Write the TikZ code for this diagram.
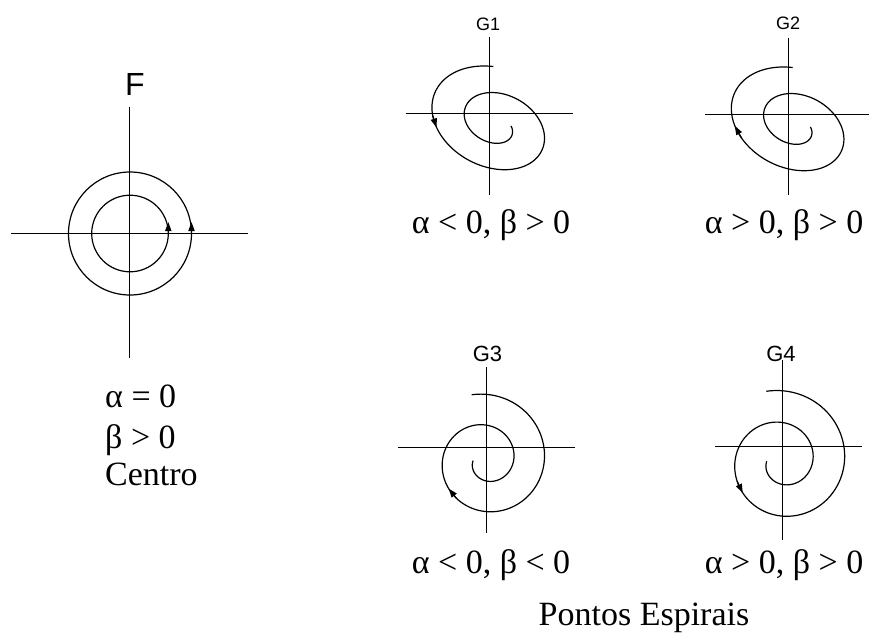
\documentclass[tikz,border=0pt]{standalone}
\usepackage{fontspec}
\setmainfont{Liberation Serif}
\newfontfamily\grafsf{Liberation Sans}
\usetikzlibrary{arrows.meta}
\tikzset{
  fase/axis/.style={line width=1.1pt},
  fase/orbit/.style={line width=1.2pt, samples=240},
  fase/tip/.style={-{Triangle[length=9pt,width=6.2pt]}, line width=1.2pt},
  fase/cond/.style={font=\fontsize{34}{40}\selectfont, inner sep=0pt},
  fase/name/.style={font=\grafsf\fontsize{22}{26}\selectfont, anchor=base, inner sep=0pt},
  fase/small/.style={font=\grafsf\fontsize{18}{22}\selectfont, anchor=base, inner sep=0pt},
  declare function={
    ovx(\t)=7+(1-0.00125*\t)*(-3*cos(\t)-72*sin(\t));
    ovy(\t)=10.8+(1-0.00125*\t)*(-58*cos(\t)-12*sin(\t));
    cirx(\t)=-1+(66.3-0.0853*\t)*sin(\t);
    ciry(\t)=13.3-(66.3-0.0853*\t)*cos(\t);
    cjrx(\t)=-0.5+(70.6-0.0881*\t)*sin(\t);
    cjry(\t)=14.6-(70.6-0.0881*\t)*cos(\t);
  },
}

\begin{document}
\begin{tikzpicture}[x=1pt, y=-1pt]
  \useasboundingbox (0,0) rectangle (870,633);

  % Centro
  \node[fase/name, font=\grafsf\fontsize{32}{36}\selectfont] (lblF) at (135,95) {F};
  \draw[fase/axis] (11,233.5) -- (248,233.5);
  \draw[fase/axis] (129.5,106.7) -- (129.5,358);
  \draw[fase/orbit] (130,233.5) circle[radius=38.3];
  \draw[fase/orbit] (130,233.5) circle[radius=61.5];
  \draw[fase/tip] (168.3,235) -- (168.3,222);
  \draw[fase/tip] (191.5,235) -- (191.5,222);
  \node[fase/cond, anchor=base west] (condA) at (105,407) {α = 0};
  \node[fase/cond, anchor=base west] (condB) at (105,448) {β > 0};
  \node[fase/cond, anchor=base west] (centro) at (105,485) {Centro};

  % G1
  \node[fase/small] (lblG1) at (488,30.7) {G1};
  \begin{scope}[shift={(489.3,113.7)}]
    \draw[fase/axis] (-83.6,0) -- (83.7,0);
    \draw[fase/axis] (0,-77) -- (0,81.3);
    \draw[fase/orbit] plot[domain=0:635] ({ovx(\x)},{ovy(\x)});
    \draw[fase/tip] ({ovx(92)},{ovy(92)}) -- ({ovx(105)},{ovy(105)});
  \end{scope}
  \node[fase/cond, anchor=base] (condG1) at (491,233) {α < 0, β > 0};

  % G2
  \node[fase/small] (lblG2) at (788,29.3) {G2};
  \begin{scope}[shift={(788.7,114.7)}]
    \draw[fase/axis] (-83.7,0) -- (80,0);
    \draw[fase/axis] (0,-76.7) -- (0,80.3);
    \draw[fase/orbit] plot[domain=0:635] ({ovx(\x)},{ovy(\x)});
    \draw[fase/tip] ({ovx(116)},{ovy(116)}) -- ({ovx(102)},{ovy(102)});
  \end{scope}
  \node[fase/cond, anchor=base] (condG2) at (784,233) {α > 0, β > 0};

  % G3
  \node[fase/name] (lblG3) at (487.5,361.7) {G3};
  \begin{scope}[shift={(486.7,447.3)}]
    \draw[fase/axis] (-88.7,0) -- (88.3,0);
    \draw[fase/axis] (0,-80.3) -- (0,85.7);
    \draw[fase/orbit] plot[domain=-12:630] ({cirx(\x)},{ciry(\x)});
    \draw[fase/tip] ({cirx(218)},{ciry(218)}) -- ({cirx(233)},{ciry(233)});
  \end{scope}
  \node[fase/cond, anchor=base] (condG3) at (491,573) {α < 0, β < 0};

  % G4
  \node[fase/name] (lblG4) at (781,361.7) {G4};
  \begin{scope}[shift={(782.3,446.7)}]
    \draw[fase/axis] (-67.3,0) -- (79.7,0);
    \draw[fase/axis] (0,-86.7) -- (0,93.3);
    \draw[fase/orbit] plot[domain=-12.5:630] ({cjrx(\x)},{cjry(\x)});
    \draw[fase/tip] ({cjrx(246)},{cjry(246)}) -- ({cjrx(231)},{cjry(231)});
  \end{scope}
  \node[fase/cond, anchor=base] (condG4) at (784,573) {α > 0, β > 0};

  \node[fase/cond, anchor=base] (pontos) at (644,625) {Pontos Espirais};
\end{tikzpicture}
\end{document}
